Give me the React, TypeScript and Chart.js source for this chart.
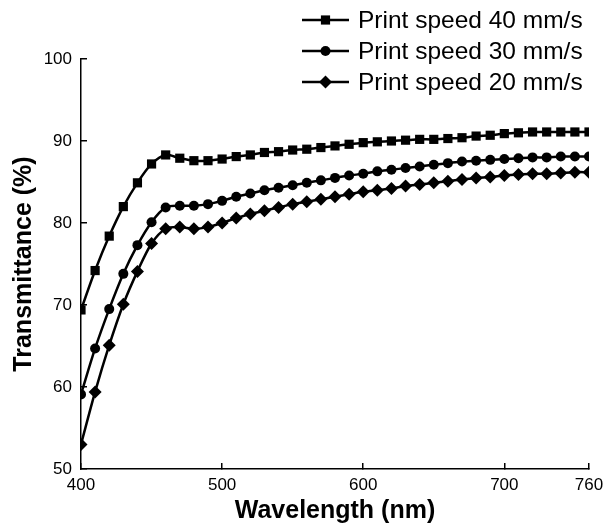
import React, { useEffect, useRef } from "react";
import { Chart, registerables } from "chart.js";
import { drawPoint } from "chart.js/helpers";

Chart.register(...registerables);

const wavelengths = [
  400, 410, 420, 430, 440, 450, 460, 470, 480, 490, 500, 510, 520, 530, 540, 550, 560, 570, 580,
  590, 600, 610, 620, 630, 640, 650, 660, 670, 680, 690, 700, 710, 720, 730, 740, 750, 760,
];

const speed40 = [
  69.4, 74.2, 78.4, 82.0, 84.9, 87.2, 88.3, 87.9, 87.6, 87.6, 87.8, 88.1, 88.3, 88.6, 88.7, 88.9,
  89.0, 89.2, 89.4, 89.6, 89.8, 89.9, 90.0, 90.1, 90.2, 90.2, 90.3, 90.4, 90.6, 90.7, 90.9, 91.0,
  91.1, 91.1, 91.1, 91.1, 91.1,
];

const speed30 = [
  59.1, 64.7, 69.5, 73.8, 77.3, 80.1, 81.9, 82.1, 82.1, 82.3, 82.7, 83.2, 83.6, 84.0, 84.3, 84.6,
  84.9, 85.2, 85.5, 85.8, 86.0, 86.3, 86.5, 86.7, 86.9, 87.1, 87.3, 87.5, 87.6, 87.7, 87.8, 87.9,
  88.0, 88.0, 88.1, 88.1, 88.1,
];

const speed20 = [
  53.0, 59.4, 65.1, 70.1, 74.1, 77.5, 79.3, 79.5, 79.3, 79.5, 80.0, 80.6, 81.1, 81.5, 81.9, 82.3,
  82.6, 82.9, 83.2, 83.5, 83.8, 84.0, 84.2, 84.5, 84.7, 84.9, 85.1, 85.3, 85.5, 85.6, 85.8, 85.9,
  86.0, 86.0, 86.1, 86.2, 86.2,
];

const seriesLabels = ["Print speed 40 mm/s", "Print speed 30 mm/s", "Print speed 20 mm/s"];
const seriesMarkers = ["rect", "circle", "rectRot"];
const seriesRadius = [6.5, 5, 6.5];
const xTicks = [400, 500, 600, 700, 760];
const yTicks = [50, 60, 70, 80, 90, 100];
const xTitle = "Wavelength (nm)";
const yTitle = "Transmittance (%)";

const FONT = '"Liberation Sans", Arial, Helvetica, sans-serif';

const legendPlugin = {
  id: "lineMarkerLegend",
  afterDraw(chart: any) {
    const ctx = chart.ctx;
    const rowY = [20, 51, 82];
    const lineX0 = 302;
    const lineX1 = 349;
    const textX = 358;
    ctx.save();
    chart.data.datasets.forEach((ds: any, i: number) => {
      const y = rowY[i];
      ctx.strokeStyle = "#000";
      ctx.lineWidth = 2.5;
      ctx.beginPath();
      ctx.moveTo(lineX0, y);
      ctx.lineTo(lineX1, y);
      ctx.stroke();
      ctx.fillStyle = "#000";
      drawPoint(
        ctx,
        { pointStyle: ds.pointStyle, radius: ds.pointRadius, rotation: 0, borderWidth: 0 },
        (lineX0 + lineX1) / 2,
        y
      );
      ctx.fillStyle = "#000";
      ctx.font = `24.5px ${FONT}`;
      ctx.textAlign = "left";
      ctx.textBaseline = "middle";
      ctx.fillText(ds.label, textX, y + 1);
    });
    ctx.restore();
  },
};

export default function App() {
  const canvasRef = useRef<HTMLCanvasElement | null>(null);

  useEffect(() => {
    const canvas = canvasRef.current;
    if (!canvas) return;
    const series = [speed40, speed30, speed20];
    const chart = new Chart(canvas, {
      type: "line",
      data: {
        datasets: series.map((arr, i) => ({
          label: seriesLabels[i],
          data: wavelengths.map((w, j) => ({ x: w, y: arr[j] })),
          borderColor: "#000",
          backgroundColor: "#000",
          borderWidth: 2.5,
          pointStyle: seriesMarkers[i] as any,
          pointRadius: seriesRadius[i],
          pointBorderWidth: 0,
          pointBackgroundColor: "#000",
          tension: 0.3,
          fill: false,
        })),
      },
      options: {
        responsive: false,
        animation: false,
        events: [],
        layout: { padding: { left: 0, top: 59, right: 14, bottom: 0 } },
        plugins: {
          legend: { display: false },
          tooltip: { enabled: false },
        },
        scales: {
          x: {
            type: "linear",
            min: 400,
            max: 760,
            afterBuildTicks: (scale: any) => {
              scale.ticks = xTicks.map((v) => ({ value: v }));
            },
            afterFit: (scale: any) => {
              scale.height = 57;
              scale.paddingLeft = 0;
              scale.paddingRight = 0;
            },
            grid: {
              drawOnChartArea: false,
              drawTicks: true,
              tickLength: -6,
              color: "#000",
              lineWidth: 1.5,
            },
            border: { display: true, color: "#000", width: 1.5 },
            ticks: {
              color: "#000",
              font: { family: FONT, size: 17 },
              padding: 12,
              maxRotation: 0,
              autoSkip: false,
            },
            title: {
              display: true,
              text: xTitle,
              color: "#000",
              font: { family: FONT, size: 25, weight: "bold" },
              padding: { top: 0, bottom: 0 },
            },
          },
          y: {
            type: "linear",
            min: 50,
            max: 100,
            afterBuildTicks: (scale: any) => {
              scale.ticks = yTicks.map((v) => ({ value: v }));
            },
            afterFit: (scale: any) => {
              scale.width = 81;
              scale.paddingTop = 0;
              scale.paddingBottom = 0;
            },
            grid: {
              drawOnChartArea: false,
              drawTicks: true,
              tickLength: -6,
              color: "#000",
              lineWidth: 1.5,
            },
            border: { display: true, color: "#000", width: 1.5 },
            ticks: {
              color: "#000",
              font: { family: FONT, size: 17 },
              padding: 15,
              autoSkip: false,
            },
            title: {
              display: true,
              text: yTitle,
              color: "#000",
              font: { family: FONT, size: 25, weight: "bold" },
              padding: { top: 9, bottom: 0 },
            },
          },
        },
      },
      plugins: [legendPlugin],
    });
    return () => chart.destroy();
  }, []);

  return (
    <div style={{ position: "fixed", left: 0, top: 0, width: 603, height: 526, background: "#fff" }}>
      <canvas ref={canvasRef} width={603} height={526} style={{ display: "block" }} />
    </div>
  );
}
